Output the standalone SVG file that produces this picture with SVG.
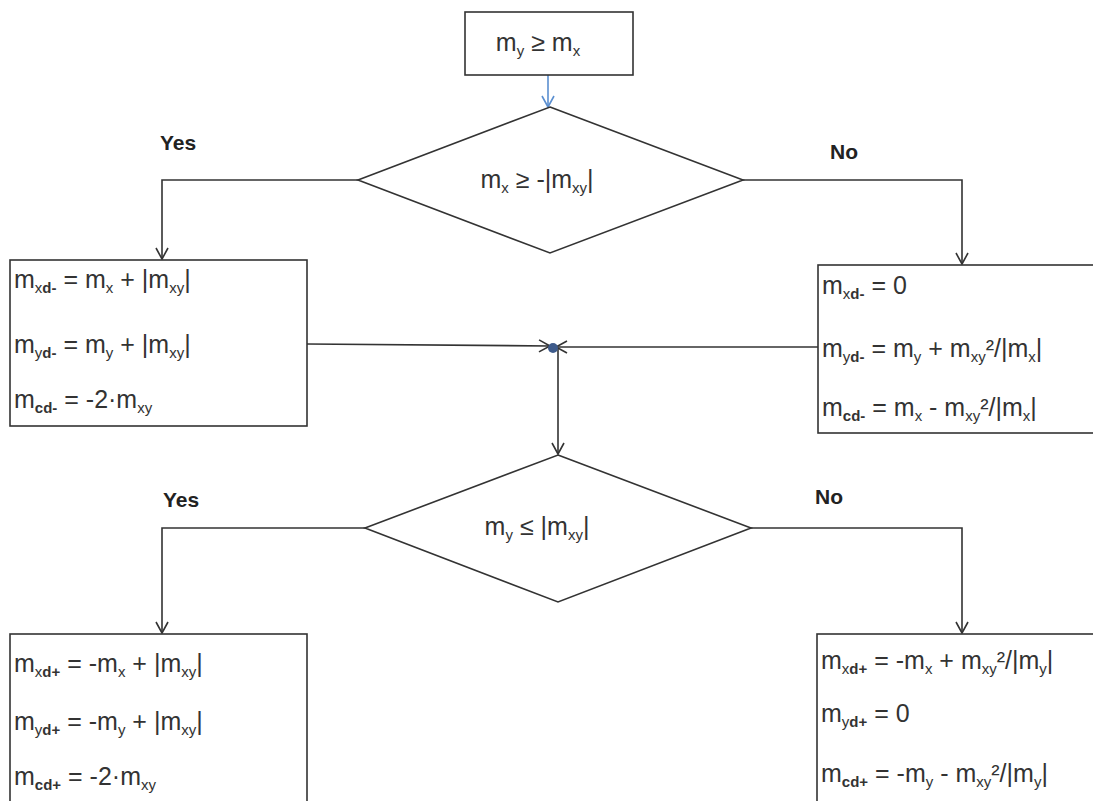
<svg xmlns="http://www.w3.org/2000/svg" width="1093" height="801" viewBox="0 0 1093 801">
<style>
.box{fill:#fff;stroke:#333;stroke-width:1.6}
.ln{fill:none;stroke:#333;stroke-width:1.6}
.t{font-family:"Liberation Sans",Arial,sans-serif;font-size:25px;fill:#333}
.c{text-anchor:middle}
.lbl{font-family:"Liberation Sans",Arial,sans-serif;font-size:21px;font-weight:bold;fill:#222}
.s{font-size:15px}
.b{font-weight:bold}
</style>
<defs>
<marker id="arr" markerWidth="14" markerHeight="14" refX="12" refY="7" orient="auto" markerUnits="userSpaceOnUse">
<path d="M1,1 L12,7 L1,13" fill="none" stroke="#333" stroke-width="1.6"/>
</marker>
<marker id="arrb" markerWidth="14" markerHeight="14" refX="12" refY="7" orient="auto" markerUnits="userSpaceOnUse">
<path d="M1,1 L12,7 L1,13" fill="none" stroke="#5b8fd0" stroke-width="1.6"/>
</marker>
</defs>
<rect width="1093" height="801" fill="#fff"/>

<g id="connectors">
<line x1="548" y1="75" x2="548" y2="107" stroke="#5b8fd0" stroke-width="1.6" marker-end="url(#arrb)"/>
<polyline class="ln" points="358,180 162,180 162,259" marker-end="url(#arr)"/>
<polyline class="ln" points="743,180 962,180 962,264" marker-end="url(#arr)"/>
<line class="ln" x1="307" y1="344" x2="550" y2="346" marker-end="url(#arr)"/>
<line class="ln" x1="818" y1="347" x2="556" y2="347" marker-end="url(#arr)"/>
<line class="ln" x1="558" y1="348" x2="558" y2="454" marker-end="url(#arr)"/>
<polyline class="ln" points="365,528 162,528 162,633" marker-end="url(#arr)"/>
<polyline class="ln" points="751,528 962,528 962,633" marker-end="url(#arr)"/>
<circle cx="553" cy="348" r="5" fill="#3d5a8a"/>
</g>

<g id="start">
<rect class="box" x="465" y="12" width="168" height="63"/>
<text class="t c" x="538" y="51">m<tspan class="s" dy="5">y</tspan><tspan dy="-5"> ≥ m</tspan><tspan class="s" dy="5">x</tspan></text>
</g>

<g id="decision1">
<polygon class="box" points="550,107 743,180 550,253 358,180"/>
<text class="t c" x="537" y="188">m<tspan class="s" dy="5">x</tspan><tspan dy="-5"> ≥ -|m</tspan><tspan class="s" dy="5">xy</tspan><tspan dy="-5">|</tspan></text>
</g>

<g id="label-yes1"><text class="lbl" x="160" y="150">Yes</text></g>
<g id="label-no1"><text class="lbl" x="830" y="159">No</text></g>

<g id="box-left1">
<rect class="box" x="10" y="260" width="297" height="166"/>
<text class="t" x="14" y="288">m<tspan class="s" dy="5">x<tspan class="b">d-</tspan></tspan><tspan dy="-5"> = m</tspan><tspan class="s" dy="5">x</tspan><tspan dy="-5"> + |m</tspan><tspan class="s" dy="5">xy</tspan><tspan dy="-5">|</tspan></text>
<text class="t" x="14" y="353">m<tspan class="s" dy="5">y<tspan class="b">d-</tspan></tspan><tspan dy="-5"> = m</tspan><tspan class="s" dy="5">y</tspan><tspan dy="-5"> + |m</tspan><tspan class="s" dy="5">xy</tspan><tspan dy="-5">|</tspan></text>
<text class="t" x="14" y="408">m<tspan class="s b" dy="5">cd-</tspan><tspan dy="-5"> = -2·m</tspan><tspan class="s" dy="5">xy</tspan></text>
</g>

<g id="box-right1">
<rect class="box" x="818" y="265" width="290" height="168"/>
<text class="t" x="822" y="294">m<tspan class="s" dy="5">x<tspan class="b">d-</tspan></tspan><tspan dy="-5"> = 0</tspan></text>
<text class="t" x="822" y="357">m<tspan class="s" dy="5">y<tspan class="b">d-</tspan></tspan><tspan dy="-5"> = m</tspan><tspan class="s" dy="5">y</tspan><tspan dy="-5"> + m</tspan><tspan class="s" dy="5">xy</tspan><tspan dy="-5">²/|m</tspan><tspan class="s" dy="5">x</tspan><tspan dy="-5">|</tspan></text>
<text class="t" x="822" y="416">m<tspan class="s b" dy="5">cd-</tspan><tspan dy="-5"> = m</tspan><tspan class="s" dy="5">x</tspan><tspan dy="-5"> - m</tspan><tspan class="s" dy="5">xy</tspan><tspan dy="-5">²/|m</tspan><tspan class="s" dy="5">x</tspan><tspan dy="-5">|</tspan></text>
</g>

<g id="decision2">
<polygon class="box" points="558,455 751,528 558,602 365,528"/>
<text class="t c" x="537" y="535">m<tspan class="s" dy="5">y</tspan><tspan dy="-5"> ≤ |m</tspan><tspan class="s" dy="5">xy</tspan><tspan dy="-5">|</tspan></text>
</g>

<g id="label-yes2"><text class="lbl" x="163" y="507">Yes</text></g>
<g id="label-no2"><text class="lbl" x="815" y="504">No</text></g>

<g id="box-left2">
<rect class="box" x="10" y="634" width="297" height="180"/>
<text class="t" x="14" y="672">m<tspan class="s" dy="5">x<tspan class="b">d+</tspan></tspan><tspan dy="-5"> = -m</tspan><tspan class="s" dy="5">x</tspan><tspan dy="-5"> + |m</tspan><tspan class="s" dy="5">xy</tspan><tspan dy="-5">|</tspan></text>
<text class="t" x="14" y="730">m<tspan class="s" dy="5">y<tspan class="b">d+</tspan></tspan><tspan dy="-5"> = -m</tspan><tspan class="s" dy="5">y</tspan><tspan dy="-5"> + |m</tspan><tspan class="s" dy="5">xy</tspan><tspan dy="-5">|</tspan></text>
<text class="t" x="14" y="785">m<tspan class="s b" dy="5">cd+</tspan><tspan dy="-5"> = -2·m</tspan><tspan class="s" dy="5">xy</tspan></text>
</g>

<g id="box-right2">
<rect class="box" x="817" y="634" width="290" height="180"/>
<text class="t" x="821" y="669">m<tspan class="s" dy="5">x<tspan class="b">d+</tspan></tspan><tspan dy="-5"> = -m</tspan><tspan class="s" dy="5">x</tspan><tspan dy="-5"> + m</tspan><tspan class="s" dy="5">xy</tspan><tspan dy="-5">²/|m</tspan><tspan class="s" dy="5">y</tspan><tspan dy="-5">|</tspan></text>
<text class="t" x="821" y="722">m<tspan class="s" dy="5">y<tspan class="b">d+</tspan></tspan><tspan dy="-5"> = 0</tspan></text>
<text class="t" x="821" y="782">m<tspan class="s b" dy="5">cd+</tspan><tspan dy="-5"> = -m</tspan><tspan class="s" dy="5">y</tspan><tspan dy="-5"> - m</tspan><tspan class="s" dy="5">xy</tspan><tspan dy="-5">²/|m</tspan><tspan class="s" dy="5">y</tspan><tspan dy="-5">|</tspan></text>
</g>
</svg>
